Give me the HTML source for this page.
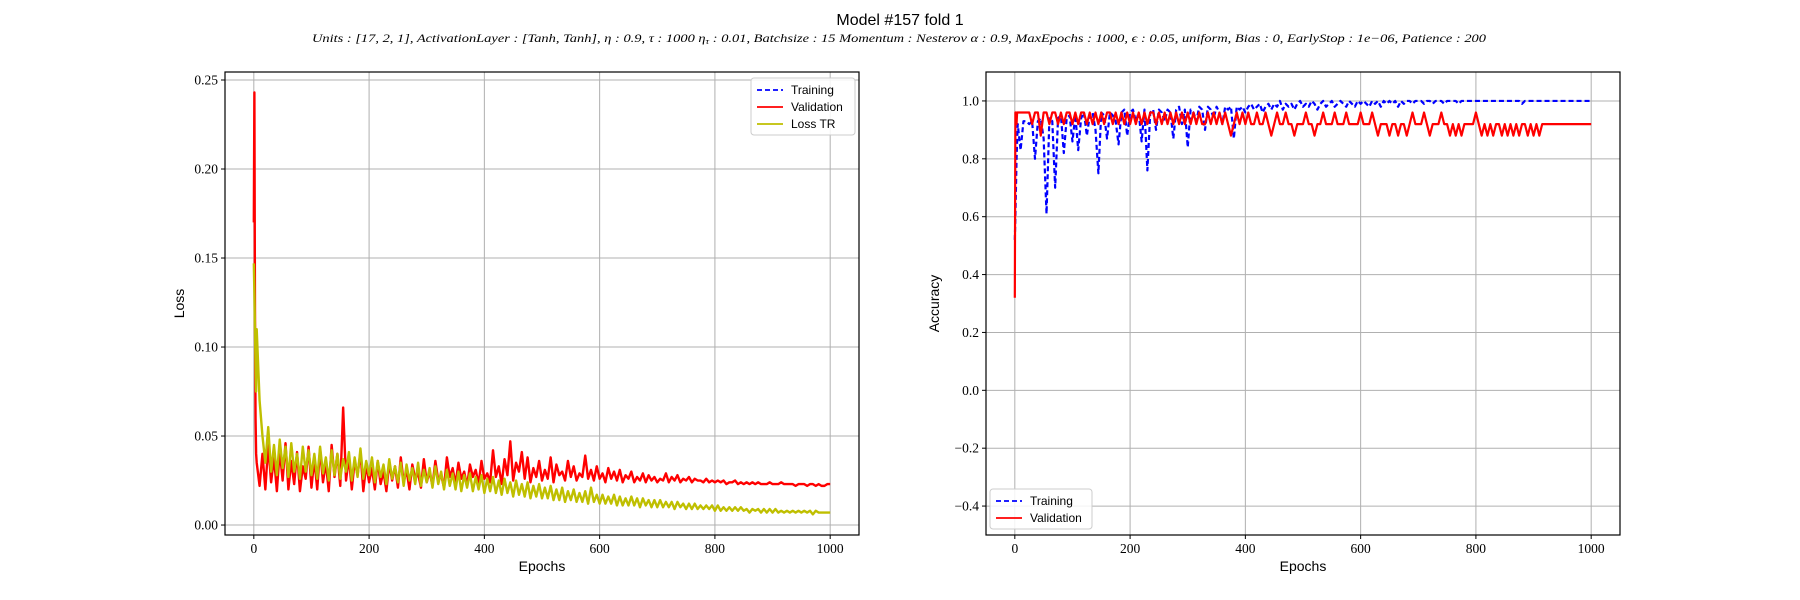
<!DOCTYPE html>
<html><head><meta charset="utf-8"><style>
body{margin:0;background:#fff}
svg{display:block}
.tk{font-family:"Liberation Serif",serif;font-size:13.5px;fill:#000}
.lb{font-family:"Liberation Sans",sans-serif;font-size:14px;fill:#000}
.lg{font-family:"Liberation Sans",sans-serif;font-size:12px;fill:#000}
</style></head><body>
<svg id="c" width="1800" height="600" xmlns="http://www.w3.org/2000/svg">
<text x="900" y="25" text-anchor="middle" style="font-family:'Liberation Sans',sans-serif;font-size:16px">Model #157 fold 1</text>
<text x="312" y="42" textLength="1174" lengthAdjust="spacingAndGlyphs" style="font-family:'Liberation Serif',serif;font-style:italic;font-size:11.5px">Units : [17, 2, 1], ActivationLayer : [Tanh, Tanh], η : 0.9, τ : 1000 η<tspan font-size="8" dy="2">τ</tspan><tspan dy="-2"> : 0.01, Batchsize : 15 Momentum : Nesterov α : 0.9, MaxEpochs : 1000, ϵ : 0.05, uniform, Bias : 0, EarlyStop : 1e−06, Patience : 200</tspan></text>
<g id="g1"></g>
<g id="g2"></g>
</svg>
<script>
const earlyEpochs=[0,1,2,3,4];
const stepStart=5, stepSize=5, stepEnd=1000;
const valLoss=[0.17,0.243,0.12,0.06,0.04,
0.035,0.022,0.04,0.02,0.045,0.024,0.038,0.019,0.042,0.025,0.046,0.02,0.036,0.023,0.041,0.019,0.033,0.026,0.044,0.021,
0.037,0.02,0.043,0.024,0.035,0.019,0.045,0.027,0.04,0.022,0.066,0.025,0.038,0.02,0.036,0.028,0.041,0.019,0.034,0.024,
0.032,0.02,0.036,0.023,0.03,0.019,0.035,0.025,0.033,0.021,0.038,0.024,0.031,0.02,0.034,0.026,0.029,0.021,0.037,0.024,
0.03,0.022,0.036,0.025,0.028,0.021,0.038,0.027,0.032,0.023,0.035,0.026,0.03,0.022,0.034,0.027,0.031,0.023,0.036,0.026,
0.029,0.024,0.042,0.027,0.033,0.023,0.037,0.028,0.047,0.025,0.035,0.03,0.041,0.026,0.038,0.024,0.032,0.027,0.036,0.025,
0.031,0.026,0.038,0.024,0.034,0.028,0.03,0.025,0.036,0.027,0.033,0.025,0.029,0.027,0.039,0.026,0.031,0.025,0.033,0.026,
0.029,0.024,0.032,0.026,0.03,0.025,0.031,0.024,0.028,0.026,0.03,0.024,0.027,0.025,0.029,0.024,0.028,0.025,0.027,0.024,
0.026,0.025,0.029,0.024,0.027,0.025,0.028,0.024,0.026,0.025,0.027,0.024,0.026,0.025,0.025,0.024,0.026,0.024,0.025,0.024,
0.025,0.024,0.025,0.023,0.024,0.024,0.025,0.023,0.024,0.023,0.024,0.023,0.024,0.023,0.024,0.023,0.023,0.023,0.024,0.023,
0.023,0.023,0.024,0.023,0.023,0.023,0.023,0.022,0.023,0.023,0.023,0.022,0.023,0.023,0.022,0.023,0.022,0.022,0.023,0.023];
const trLoss=[0.147,0.13,0.11,0.09,0.075,
0.11,0.07,0.05,0.035,0.055,0.03,0.045,0.028,0.048,0.032,0.044,0.027,0.046,0.03,0.04,0.026,0.044,0.03,0.042,0.028,
0.04,0.026,0.044,0.029,0.038,0.025,0.042,0.028,0.04,0.026,0.037,0.03,0.041,0.025,0.038,0.027,0.043,0.026,0.036,0.028,
0.038,0.024,0.036,0.027,0.034,0.023,0.037,0.026,0.033,0.024,0.035,0.022,0.034,0.025,0.032,0.023,0.035,0.022,0.031,0.024,
0.032,0.021,0.033,0.023,0.03,0.02,0.031,0.022,0.029,0.02,0.03,0.019,0.028,0.021,0.029,0.019,0.027,0.02,0.028,0.018,
0.026,0.019,0.027,0.018,0.025,0.017,0.026,0.018,0.024,0.016,0.025,0.017,0.023,0.016,0.024,0.015,0.022,0.016,0.023,0.015,
0.021,0.015,0.022,0.014,0.02,0.014,0.021,0.013,0.019,0.014,0.02,0.013,0.018,0.013,0.019,0.012,0.021,0.013,0.017,0.012,
0.017,0.012,0.016,0.012,0.017,0.011,0.016,0.011,0.015,0.011,0.016,0.011,0.015,0.01,0.015,0.011,0.014,0.01,0.014,0.01,
0.014,0.01,0.013,0.01,0.013,0.009,0.013,0.01,0.012,0.009,0.012,0.009,0.012,0.009,0.011,0.009,0.011,0.009,0.011,0.008,
0.011,0.008,0.01,0.008,0.01,0.008,0.01,0.008,0.01,0.008,0.009,0.007,0.009,0.008,0.009,0.007,0.009,0.007,0.009,0.007,
0.009,0.007,0.008,0.007,0.008,0.007,0.008,0.007,0.008,0.007,0.008,0.007,0.008,0.006,0.008,0.007,0.007,0.007,0.007,0.007];
const trAcc=[0.52,0.6,0.7,0.8,0.86,
0.92,0.83,0.93,0.93,0.92,0.93,0.8,0.93,0.94,0.87,0.61,0.94,0.93,0.7,0.94,0.95,0.82,0.94,0.95,0.86,
0.95,0.83,0.94,0.96,0.88,0.95,0.96,0.9,0.75,0.96,0.95,0.87,0.96,0.95,0.93,0.85,0.96,0.97,0.88,0.96,
0.97,0.93,0.96,0.86,0.97,0.76,0.96,0.97,0.9,0.97,0.96,0.93,0.97,0.96,0.87,0.97,0.98,0.92,0.97,0.84,
0.97,0.96,0.93,0.98,0.97,0.9,0.98,0.97,0.94,0.98,0.96,0.92,0.98,0.97,0.98,0.87,0.98,0.97,0.98,0.96,
0.98,0.99,0.97,0.98,0.99,0.96,0.98,0.99,0.97,0.99,0.98,1.0,0.97,0.99,0.98,0.99,0.97,0.99,1.0,0.98,
0.99,0.98,1.0,0.99,0.97,0.99,1.0,0.98,0.99,1.0,0.98,0.99,1.0,0.99,0.98,1.0,0.99,0.98,1.0,0.99,
1.0,0.99,0.98,1.0,0.99,1.0,0.98,1.0,0.99,1.0,0.99,1.0,0.98,1.0,0.99,1.0,1.0,0.99,1.0,1.0,
1.0,0.99,1.0,1.0,0.99,1.0,1.0,1.0,0.99,1.0,1.0,1.0,1.0,0.99,1.0,1.0,1.0,1.0,1.0,1.0,
1.0,1.0,1.0,1.0,1.0,1.0,1.0,1.0,1.0,1.0,1.0,1.0,1.0,1.0,1.0,0.99,1.0,1.0,1.0,1.0,
1.0,1.0,1.0,1.0,1.0,1.0,1.0,1.0,1.0,1.0,1.0,1.0,1.0,1.0,1.0,1.0,1.0,1.0,1.0,1.0];
const valAcc=[0.32,0.96,0.96,0.92,0.96,
0.96,0.96,0.96,0.96,0.96,0.92,0.96,0.96,0.88,0.96,0.96,0.92,0.96,0.96,0.92,0.96,0.92,0.96,0.96,0.92,
0.96,0.92,0.96,0.96,0.92,0.96,0.92,0.96,0.92,0.96,0.92,0.96,0.96,0.92,0.96,0.92,0.96,0.92,0.96,0.92,
0.96,0.92,0.96,0.92,0.96,0.92,0.96,0.96,0.92,0.96,0.92,0.96,0.92,0.96,0.92,0.96,0.92,0.96,0.92,0.96,
0.92,0.96,0.92,0.96,0.92,0.92,0.96,0.92,0.96,0.92,0.96,0.92,0.96,0.92,0.88,0.92,0.96,0.92,0.96,0.92,
0.96,0.92,0.92,0.96,0.92,0.92,0.96,0.92,0.88,0.92,0.96,0.92,0.92,0.96,0.92,0.92,0.88,0.92,0.92,0.92,
0.96,0.92,0.92,0.88,0.92,0.92,0.96,0.92,0.92,0.92,0.96,0.92,0.92,0.92,0.96,0.92,0.92,0.92,0.92,0.96,
0.92,0.92,0.92,0.96,0.92,0.88,0.92,0.92,0.92,0.88,0.92,0.92,0.88,0.92,0.92,0.88,0.92,0.96,0.92,0.92,
0.92,0.96,0.92,0.88,0.92,0.92,0.92,0.96,0.92,0.92,0.88,0.92,0.88,0.92,0.88,0.92,0.92,0.92,0.92,0.96,
0.92,0.88,0.92,0.88,0.92,0.88,0.92,0.92,0.88,0.92,0.88,0.92,0.88,0.92,0.88,0.92,0.92,0.88,0.92,0.88,
0.92,0.88,0.92,0.92,0.92,0.92,0.92,0.92,0.92,0.92,0.92,0.92,0.92,0.92,0.92,0.92,0.92,0.92,0.92,0.92];
const xTicks=[0,200,400,600,800,1000];
const lossTicks=[0,0.05,0.1,0.15,0.2,0.25];
const lossTickLabels=["0.00","0.05","0.10","0.15","0.20","0.25"];
const accTicks=[-0.4,-0.2,0,0.2,0.4,0.6,0.8,1.0];
const accTickLabels=["−0.4","−0.2","0.0","0.2","0.4","0.6","0.8","1.0"];

const epochs=earlyEpochs.slice();
for(let e=stepStart;e<=stepEnd;e+=stepSize) epochs.push(e);
const NS='http://www.w3.org/2000/svg';
function mk(p,t,a){const e=document.createElementNS(NS,t);for(const k in a)e.setAttribute(k,a[k]);p.appendChild(e);return e;}

function panel(g,box,xlim,ylim,yT,yL,ylabel,ylabOff,series,legend){
  const sx=v=>box.l+(v-xlim[0])/(xlim[1]-xlim[0])*(box.r-box.l);
  const sy=v=>box.b-(v-ylim[0])/(ylim[1]-ylim[0])*(box.b-box.t);
  xTicks.forEach(v=>{
    const l=mk(g,'line',{x1:sx(v),x2:sx(v),y1:box.t,y2:box.b,stroke:'#b0b0b0','stroke-width':1});
    
    
    mk(g,'line',{x1:sx(v),x2:sx(v),y1:box.b,y2:box.b+4,stroke:'#000'});
    const t=mk(g,'text',{x:sx(v),y:box.b+18,'text-anchor':'middle',class:'tk'});t.textContent=v;
    
    
  });
  yT.forEach((v,i)=>{
    const l=mk(g,'line',{x1:box.l,x2:box.r,y1:sy(v),y2:sy(v),stroke:'#b0b0b0','stroke-width':1});
    
    
    mk(g,'line',{x1:box.l-4,x2:box.l,y1:sy(v),y2:sy(v),stroke:'#000'});
    const t=mk(g,'text',{x:box.l-7,y:sy(v)+4.5,'text-anchor':'end',class:'tk'});t.textContent=yL[i];
    
    
  });
  const clipId='clip'+box.l;
  const cp=mk(g,'clipPath',{id:clipId});mk(cp,'rect',{x:box.l,y:box.t,width:box.r-box.l,height:box.b-box.t});
  series.forEach(s=>{
    let d='';s.data.forEach((v,i)=>{d+=(i?'L':'M')+sx(epochs[i]).toFixed(2)+' '+sy(v).toFixed(2);});
    const p=mk(g,'path',{d:d,fill:'none',stroke:s.color,'stroke-width':s.w||2,'stroke-dasharray':s.dash||'none','clip-path':'url(#'+clipId+')','stroke-linejoin':'round'});
    
    
  });
  const fr=mk(g,'rect',{x:box.l,y:box.t,width:box.r-box.l,height:box.b-box.t,fill:'none',stroke:'#000','stroke-width':1.2});
  
  
  const xl=mk(g,'text',{x:(box.l+box.r)/2,y:box.b+36,'text-anchor':'middle',class:'lb'});xl.textContent='Epochs';
  
  
  const yx=box.l-ylabOff, yy=(box.t+box.b)/2;
  const yl=mk(g,'text',{x:yx,y:yy,'text-anchor':'middle',class:'lb',transform:'rotate(-90 '+yx+' '+yy+')'});yl.textContent=ylabel;
  
  
  const lgG=mk(g,'g',{});
  
  
  mk(lgG,'rect',{x:legend.x,y:legend.y,width:legend.w,height:legend.items.length*17+6,rx:3,fill:'#fff',stroke:'#ccc','fill-opacity':0.85});
  legend.items.forEach((it,i)=>{
    const y=legend.y+12+i*17;
    mk(lgG,'line',{x1:legend.x+6,x2:legend.x+32,y1:y,y2:y,stroke:it.color,'stroke-width':1.7,'stroke-dasharray':it.dash||'none'});
    const t=mk(lgG,'text',{x:legend.x+40,y:y+4,class:'lg'});t.textContent=it.label;
    
    
  });
}
panel(document.getElementById('g1'),{l:225,r:859,t:72,b:535},[-50,1050],[-0.0056,0.2545],lossTicks,lossTickLabels,'Loss',41,
 [{data:valLoss,color:'#ff0000',name:'validation-loss-line',w:2.4},{data:trLoss,color:'#bfbf00',name:'training-loss-line',w:2.4}],
 {x:751,y:78,w:104,items:[{label:'Training',color:'#0000ff',dash:'5 3'},{label:'Validation',color:'#ff0000'},{label:'Loss TR',color:'#bfbf00'}]});
panel(document.getElementById('g2'),{l:986,r:1620,t:72,b:535},[-50,1050],[-0.5,1.1],accTicks,accTickLabels,'Accuracy',47,
 [{data:trAcc,color:'#0000ff',dash:'5 3',name:'training-accuracy-line',w:2.2},{data:valAcc,color:'#ff0000',name:'validation-accuracy-line',w:2.2}],
 {x:990,y:489,w:102,items:[{label:'Training',color:'#0000ff',dash:'5 3'},{label:'Validation',color:'#ff0000'}]});
</script>
</body></html>
